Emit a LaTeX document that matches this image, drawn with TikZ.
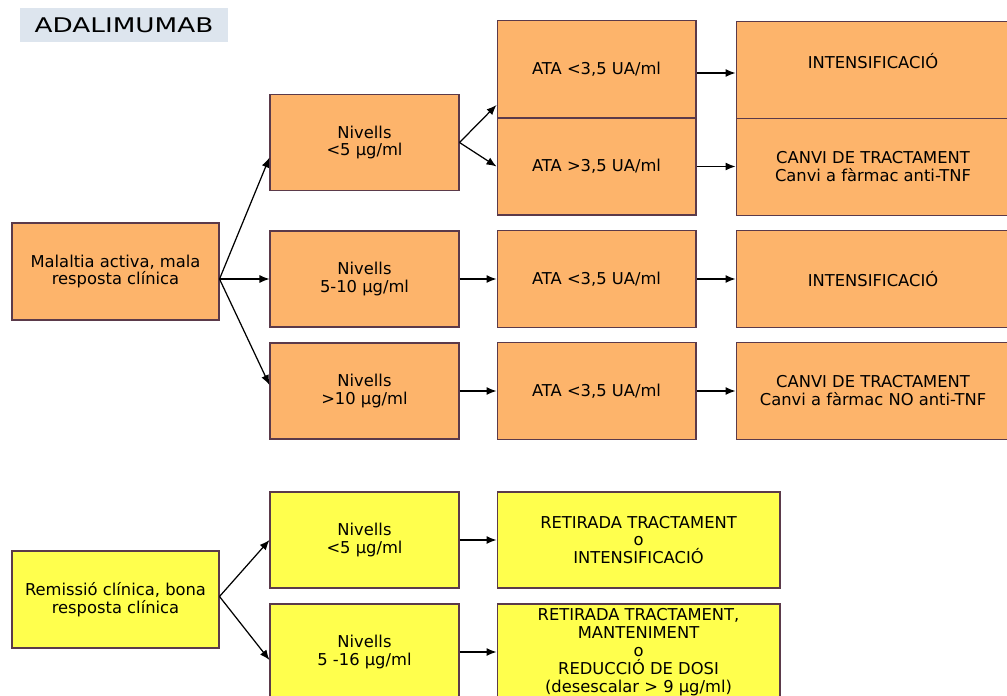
\documentclass[tikz,border=0pt]{standalone}
\usepackage{fontspec}
\setmainfont{DejaVu Sans}
\usetikzlibrary{arrows.meta,calc}
\definecolor{forange}{HTML}{FDB46B}
\definecolor{fyellow}{HTML}{FFFF4D}
\definecolor{fedge}{HTML}{5B3A4A}
\definecolor{ftitle}{HTML}{DDE5EE}
\tikzset{
  box/.style    = {draw=fedge, line width=0.6pt, rectangle, align=center,
                   inner sep=1pt, font=\fontsize{9.3}{10.2}\selectfont},
  obox/.style   = {box, fill=forange},
  ybox/.style   = {box, fill=fyellow},
  startbox/.style = {minimum width=4.14cm, minimum height=1.94cm},
  nivbox/.style = {minimum width=3.78cm, minimum height=1.92cm},
  atabox/.style = {minimum width=3.98cm, minimum height=1.94cm},
  outbox/.style = {minimum width=5.48cm, minimum height=1.94cm},
  actbox/.style = {minimum width=5.66cm, minimum height=1.92cm},
  sig/.style    = {-{Latex[length=2mm,width=1.6mm]}, line width=0.7pt},
}

\begin{document}
\begin{tikzpicture}[x=0.02cm,y=-0.02cm]
\useasboundingbox (0,0) rectangle (1007,696);
\clip (0,0) rectangle (1007,696);
\node[fill=ftitle, minimum width=4.16cm, minimum height=0.68cm, inner sep=0pt,
      font=\fontsize{11.5}{13}\selectfont] (title) at (124,25)
  {\scalebox{1.3}[1]{ADALIMUMAB}};
% active disease branch
\node[obox,startbox] (mal) at (115.5,271.5) {Malaltia activa, mala\\resposta clínica};
\node[obox,nivbox] (niv1) at (364.5,142.5) {Nivells\\<5 µg/ml};
\node[obox,nivbox] (niv2) at (364.5,279) {Nivells\\5-10 µg/ml};
\node[obox,nivbox] (niv3) at (364.5,391) {Nivells\\>10 µg/ml};
\node[obox,atabox] (ata1a) at (596.5,69) {ATA <3,5 UA/ml};
\node[obox,atabox] (ata1b) at (596.5,166.5) {ATA >3,5 UA/ml};
\node[obox,atabox] (ata2) at (596.5,279) {ATA <3,5 UA/ml};
\node[obox,atabox] (ata3) at (596.5,391) {ATA <3,5 UA/ml};
\node[obox,outbox,text depth=0.36cm] (res1a) at (873,70) {INTENSIFICACIÓ};
\node[obox,outbox] (res1b) at (873,167) {CANVI DE TRACTAMENT\\Canvi a fàrmac anti-TNF};
\node[obox,outbox] (res2) at (873,279) {INTENSIFICACIÓ};
\node[obox,outbox] (res3) at (873,391) {CANVI DE TRACTAMENT\\Canvi a fàrmac NO anti-TNF};
\draw[sig] (mal.east |- niv2.west) -- ($(niv1.west)+(0,15)$);
\draw[sig] (mal.east |- niv2.west) -- (niv2.west);
\draw[sig] (mal.east |- niv2.west) -- ($(niv3.west)+(0,-6)$);
\draw[sig] (niv1.east) -- ($(ata1a.west)+(0,36)$);
\draw[sig] (niv1.east) -- (ata1b.west);
\draw[sig] (niv2.east) -- (ata2.west);
\draw[sig] (niv3.east) -- (ata3.west);
\draw[sig] ($(ata1a.east)+(0,4)$) -- ($(ata1a.east -| res1a.west)+(0,4)$);
\draw[sig] (ata1b.east) -- (ata1b.east -| res1b.west);
\draw[sig] (ata2.east) -- (res2.west);
\draw[sig] (ata3.east) -- (res3.west);
% remission branch
\node[ybox,startbox] (rem) at (115.5,599.5) {Remissió clínica, bona\\resposta clínica};
\node[ybox,nivbox] (nivy1) at (364.5,540) {Nivells\\<5 µg/ml};
\node[ybox,nivbox] (nivy2) at (364.5,652) {Nivells\\5 -16 µg/ml};
\node[ybox,actbox] (act1) at (638.5,540) {RETIRADA TRACTAMENT\\o\\INTENSIFICACIÓ};
\node[ybox,actbox] (act2) at (638.5,652)
  {RETIRADA TRACTAMENT,\\MANTENIMENT\\o\\REDUCCIÓ DE DOSI\\(desescalar > 9 µg/ml)};
\draw[sig] ($(rem.east)+(0,-3)$) -- (nivy1.west);
\draw[sig] ($(rem.east)+(0,-3)$) -- ($(nivy2.west)+(0,8)$);
\draw[sig] (nivy1.east) -- (act1.west);
\draw[sig] (nivy2.east) -- (act2.west);
\end{tikzpicture}
\end{document}
